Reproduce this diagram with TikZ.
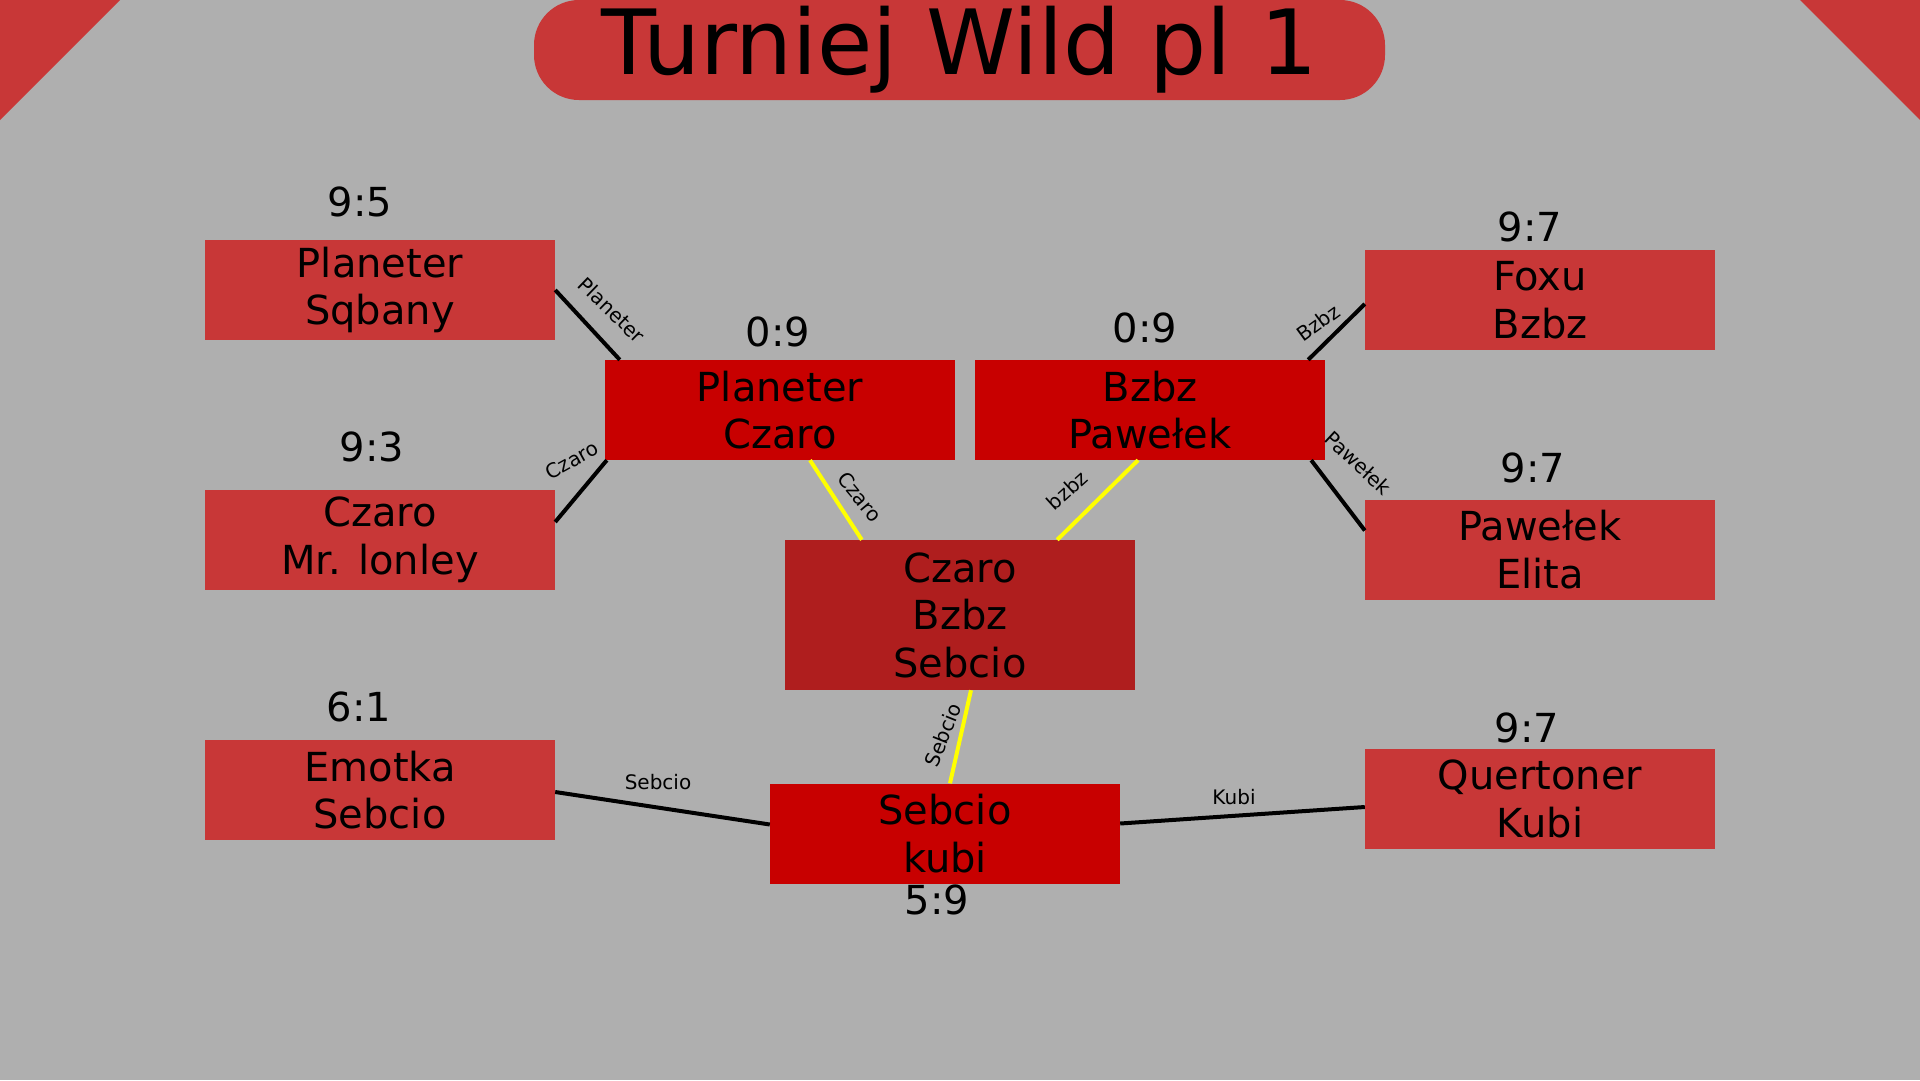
\documentclass[tikz,border=0pt]{standalone}
\usepackage{fontspec}
\setmainfont{DejaVu Sans}
\definecolor{bggray}{HTML}{AFAFAF}
\definecolor{teamred}{HTML}{C83737}
\definecolor{semired}{HTML}{C80000}
\definecolor{finalred}{HTML}{AF1E1E}
\definecolor{winyellow}{HTML}{FFFF00}
\begin{document}
\begin{tikzpicture}[x=1pt,y=-1pt,
  team/.style={rectangle, fill=teamred, draw=none, minimum width=350pt,
    minimum height=100pt, inner sep=0pt, align=center,
    font=\fontsize{40}{47.5}\selectfont},
  semi/.style={team, fill=semired},
  final/.style={team, fill=finalred, minimum height=150pt},
  score/.style={inner sep=0pt, font=\fontsize{40}{47.5}\selectfont},
  link/.style={line width=4pt, black},
  winlink/.style={line width=4pt, winyellow},
  tag/.style={inner sep=0pt, font=\fontsize{20}{24}\selectfont},
  titlebox/.style={rectangle, fill=teamred, rounded corners=45pt,
    minimum width=851pt, minimum height=100pt, inner sep=0pt,
    font=\fontsize{90}{100}\selectfont}]

% background and corner wedges
\fill[bggray] (0,0) rectangle (1920,1080);
\useasboundingbox (0,0) rectangle (1920,1080);
\fill[teamred] (0,0) -- (120,0) -- (0,120) -- cycle;
\fill[teamred] (1800,0) -- (1920,0) -- (1920,120) -- cycle;

% title
\node[titlebox] (title) at (959.5,50) {Turniej Wild pl 1};

% first round
\node[team] (a) at (380,290) {Planeter\\Sqbany};
\node[team] (b) at (380,540) {Czaro\\Mr. lonley};
\node[team] (c) at (380,790) {Emotka\\Sebcio};
\node[team] (d) at (1540,300) {Foxu\\Bzbz};
\node[team] (e) at (1540,549.5) {Pawełek\\Elita};
\node[team] (f) at (1540,799) {Quertoner\\Kubi};

% later rounds
\node[semi] (pc) at (780,410) {Planeter\\Czaro};
\node[semi] (bp) at (1150,410) {Bzbz\\Pawełek};
\node[semi] (sk) at (945,833.5) {Sebcio\\kubi};
\node[final] (cbs) at (960,615) {Czaro\\Bzbz\\Sebcio};

% scores
\node[score] (sa) at (360,202) {9:5};
\node[score] (sb) at (372,447) {9:3};
\node[score] (sc) at (359,707) {6:1};
\node[score] (sd) at (1530,227) {9:7};
\node[score] (se) at (1533,468) {9:7};
\node[score] (sf) at (1527,728) {9:7};
\node[score] (spc) at (778,332) {0:9};
\node[score] (sbp) at (1145,328) {0:9};
\node[score] (ssk) at (937,900) {5:9};

% connectors between rounds
\draw[link] (a.east) -- ([xshift=15pt]pc.north west);
\draw[link] ([yshift=18pt]b.east) -- ([xshift=2pt]pc.south west);
\draw[link] ([yshift=-4pt]d.west) -- ([xshift=-17pt]bp.north east);
\draw[link] ([yshift=19pt]e.west) -- ([xshift=-14pt]bp.south east);
\draw[link] ([yshift=-2pt]c.east) -- ([yshift=9pt]sk.west);
\draw[link] ([yshift=-8pt]f.west) -- ([yshift=10pt]sk.east);
\draw[winlink] ([xshift=30pt]pc.south) -- ([xshift=77pt]cbs.north west);
\draw[winlink] ([xshift=-12pt]bp.south) -- ([xshift=-78pt]cbs.north east);
\draw[winlink] ([xshift=11pt]cbs.south) -- ([xshift=5pt]sk.north);

% connector labels
\node[tag, rotate=-44] (ta) at (612,310) {Planeter};
\node[tag, rotate=29] (tb) at (572,460) {Czaro};
\node[tag, rotate=36] (td) at (1318,323) {Bzbz};
\node[tag, rotate=-43] (te) at (1358,463) {Pawełek};
\node[tag] (tc) at (658,782) {Sebcio};
\node[tag] (tf) at (1234,797) {Kubi};
\node[tag, rotate=-50] (tpc) at (860,497) {Czaro};
\node[tag, rotate=42] (tbp) at (1067,490) {bzbz};
\node[tag, rotate=68] (tcbs) at (943,735) {Sebcio};
\end{tikzpicture}
\end{document}
